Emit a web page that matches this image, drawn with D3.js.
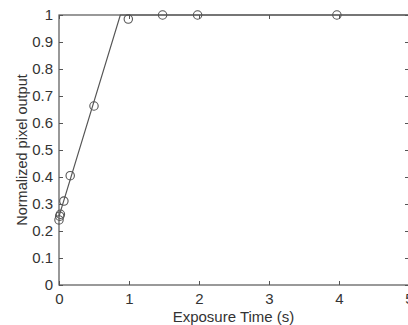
<!DOCTYPE html>
<html><head><meta charset="utf-8">
<script src="https://cdn.jsdelivr.net/npm/d3@7"></script>
<style>body{margin:0;background:#fff}svg{display:block}text{font-family:"Liberation Sans",Arial,sans-serif;fill:#333}</style>
</head><body>
<svg id="c" width="408" height="325"></svg>
<script>
const exposureTime = [0.0, 0.01, 0.02, 0.07, 0.16, 0.5, 0.99, 1.48, 1.98, 3.97];
const pixelOutput  = [0.241, 0.255, 0.262, 0.311, 0.405, 0.663, 0.985, 1.0, 1.0, 1.0];
const fitTime   = [0.0, 0.876, 5.0];
const fitOutput = [0.254, 1.0, 1.0];
const xTicks = [0, 1, 2, 3, 4, 5];
const yTicks = [0, 0.1, 0.2, 0.3, 0.4, 0.5, 0.6, 0.7, 0.8, 0.9, 1];

const svg = d3.select("#c");
const L = 59, R = 409, T = 15, B = 285;
const x = d3.scaleLinear().domain([0, 5]).range([L, R]);
const y = d3.scaleLinear().domain([0, 1]).range([B, T]);
const axCol = "#555";

// box
svg.append("rect").attr("x", L).attr("y", T).attr("width", R - L).attr("height", B - T)
  .attr("fill", "none").attr("stroke", axCol).attr("stroke-width", 1.2);

const tl = 4;
const gB = svg.append("g").attr("transform", `translate(0,${B})`)
  .call(d3.axisBottom(x).tickValues(xTicks).tickFormat(d3.format("d")).tickSizeInner(-tl).tickSizeOuter(0).tickPadding(8));
const gT = svg.append("g").attr("transform", `translate(0,${T})`)
  .call(d3.axisTop(x).tickValues(xTicks).tickFormat("").tickSizeInner(-tl).tickSizeOuter(0));
const gL = svg.append("g").attr("transform", `translate(${L},0)`)
  .call(d3.axisLeft(y).tickValues(yTicks).tickFormat(d => d === 0 || d === 1 ? d3.format("d")(d) : d3.format(".1f")(d)).tickSizeInner(-tl).tickSizeOuter(0).tickPadding(6));
const gR = svg.append("g").attr("transform", `translate(${R},0)`)
  .call(d3.axisRight(y).tickValues(yTicks).tickFormat("").tickSizeInner(-tl).tickSizeOuter(0));
[gB, gT, gL, gR].forEach(g => {
  g.select(".domain").remove();
  g.selectAll("line").attr("stroke", axCol);
  g.selectAll("text").style("font-size", "15px").attr("fill", "#333");
});

// fit line
const line = d3.line().x(d => x(d[0])).y(d => y(d[1]));
svg.append("path").datum(fitTime.map((t, i) => [t, fitOutput[i]]))
  .attr("d", line).attr("fill", "none").attr("stroke", "#555").attr("stroke-width", 1.2);

// markers
svg.selectAll("circle.m").data(exposureTime.map((t, i) => [t, pixelOutput[i]])).enter()
  .append("circle").attr("class", "m")
  .attr("cx", d => x(d[0])).attr("cy", d => y(d[1])).attr("r", 4.2)
  .attr("fill", "none").attr("stroke", "#555").attr("stroke-width", 1.1);

// labels
svg.append("text").attr("x", (L + R) / 2 - 0.5).attr("y", 321.5).attr("text-anchor", "middle")
  .style("font-size", "15px").text("Exposure Time (s)");
svg.append("text").attr("transform", `translate(27,${(T + B) / 2}) rotate(-90)`).attr("text-anchor", "middle")
  .style("font-size", "14.5px").text("Normalized pixel output");
</script>
</body></html>
